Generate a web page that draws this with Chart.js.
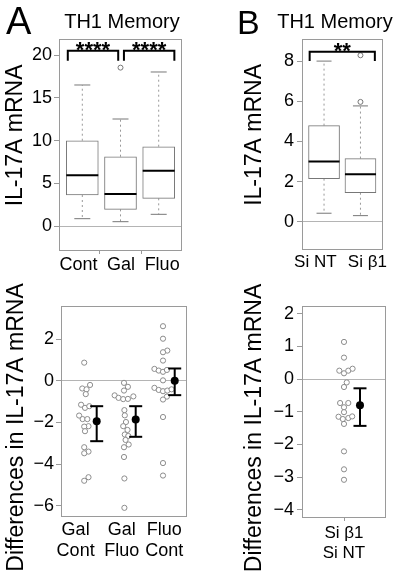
<!DOCTYPE html>
<html>
<head>
<meta charset="utf-8">
<script src="https://cdn.jsdelivr.net/npm/chart.js@4.4.1/dist/chart.umd.min.js"></script>
<style>
  body { margin: 0; background: #fff; }
  #wrap { position: relative; width: 400px; height: 576px; overflow: hidden;
          font-family: "Liberation Sans", Arial, Helvetica, sans-serif; color: #000; }
  canvas { position: absolute; }
  .lbl { position: absolute; line-height: 1; white-space: nowrap; }
  .ttl { font-size: 20px; width: 140px; text-align: center; top: 11px; }
</style>
</head>
<body>
<div id="wrap">
  <canvas id="boxA" width="200" height="290" style="left:0;top:0"></canvas>
  <canvas id="boxB" width="200" height="290" style="left:200px;top:0"></canvas>
  <canvas id="diffA" width="200" height="306" style="left:0;top:270px"></canvas>
  <canvas id="diffB" width="200" height="306" style="left:200px;top:270px"></canvas>
  <div class="lbl" style="left:6px;top:2px;font-size:38px">A</div>
  <div class="lbl ttl" style="left:52px">TH1 Memory</div>
  <div class="lbl" style="left:237px;top:5px;font-size:34px">B</div>
  <div class="lbl ttl" style="left:265px">TH1 Memory</div>
</div>
<script>
// ---- panel A, top: IL-17A mRNA box plots
const catsA = ['Cont', 'Gal', 'Fluo'];
const lowA  = [0.88, 0.53, 1.39];
const q1A   = [3.65, 1.97, 3.26];
const medA  = [5.95, 3.77, 6.49];
const q3A   = [10.0, 8.13, 9.30];
const highA = [16.52, 12.54, 18.04];
const outA  = [[], [18.55], []];
const ticksA = [0, 5, 10, 15, 20];
const sigA = ['****', '****'];
const sigFromA = [0.62, 2.09];
const sigToA   = [1.94, 3.41];

// ---- panel B, top
const catsB = ['Si NT', 'Si \u03B21'];
const lowB  = [0.43, 0.31];
const q1B   = [2.15, 1.45];
const medB  = [3.01, 2.37];
const q3B   = [4.79, 3.15];
const highB = [8.0, 5.77];
const outB  = [[], [5.97, 8.29]];
const ticksB = [0, 2, 4, 6, 8];
const sigB = ['**'];
const sigFromB = [0.605];
const sigToB   = [2.395];

// ---- panel A, bottom: paired differences
const catsDA = [['Gal', 'Cont'], ['Gal', 'Fluo'], ['Fluo', 'Cont']];
const galCont  = [0.87, -0.2, -0.37, -0.41, -0.64, -1.15, -1.3, -1.22, -1.67, -1.84, -1.84, -2.18, -2.2, -2.42, -3.19, -3.4, -3.48, -4.63, -4.8];
const galContX = [-0.02, 0.13, -0.07, 0.04, 0.02, -0.1, 0, 0.11, -0.15, -0.06, 0.06, 0.09, -0.02, 0, -0.02, 0.09, -0.02, 0.09, -0.02];
const galFluo  = [-0.1, -0.29, -0.47, -0.7, -0.82, -0.88, -0.87, -0.75, -1.41, -1.66, -1.98, -2.18, -2.36, -2.58, -2.65, -2.84, -3.06, -3.19, -3.66, -4.69, -6.1];
const galFluoX = [0, 0.1, 0, -0.24, -0.14, -0.02, 0.1, 0.24, 0.01, 0.02, 0.05, -0.02, 0.09, 0.02, 0.11, 0.04, 0.12, 0, 0, 0.01, 0.01];
const fluoCont  = [2.62, 2.02, 1.45, 1.37, 0.97, 0.57, 0.49, 0.43, 0.52, 0.02, -0.34, -0.44, -0.5, -0.47, -0.41, -0.76, -0.9, -1.74, -3.95, -4.55];
const fluoContX = [0, 0, 0.11, 0, 0, -0.22, -0.11, 0, 0.1, 0, -0.22, -0.11, 0, 0.11, 0.22, 0.1, 0, 0, 0, 0];
const meanDA = [-1.94, -1.86, 0.0];
const loDA   = [-2.90, -2.69, -0.69];
const hiDA   = [-1.22, -1.22, 0.59];
const ticksDA = [-6, -4, -2, 0, 2];

// ---- panel B, bottom
const catsDB = [['Si \u03B21', 'Si NT']];
const siDiff  = [1.14, 0.66, 0.26, 0.18, 0.26, 0.32, -0.1, -0.24, -0.73, -0.73, -0.86, -1.01, -1.15, -1.22, -1.19, -1.14, -1.37, -2.21, -2.76, -3.08];
const siDiffX = [0, 0, -0.12, 0, 0.11, 0.22, 0.07, 0, -0.1, 0.11, 0, 0, -0.14, -0.03, 0.11, 0.21, 0, 0, 0, 0];
const meanDB = [-0.8];
const loDB   = [-1.43];
const hiDB   = [-0.28];
const ticksDB = [-4, -3, -2, -1, 0, 1, 2];

Chart.defaults.font.family = '"Liberation Sans", Arial, Helvetica, sans-serif';
Chart.defaults.color = '#000';
Chart.defaults.animation = false;
Chart.defaults.events = [];
Chart.defaults.plugins.legend.display = false;
Chart.defaults.plugins.tooltip.enabled = false;

const minus = v => String(v).replace('-', '\u2212');

// grey frame round the plot region
const frame = {
  id: 'frame',
  beforeDatasetsDraw(chart) {
    const a = chart.chartArea, ctx = chart.ctx;
    ctx.save();
    ctx.strokeStyle = '#9a9a9a';
    ctx.lineWidth = 1;
    ctx.strokeRect(Math.round(a.left) + 0.5, Math.round(a.top) + 0.5,
                   Math.round(a.right - a.left) - 1, Math.round(a.bottom - a.top) - 1);
    ctx.restore();
  }
};

// asterisks over the significance brackets
function starsPlugin(labels, from, to, yTop) {
  return {
    id: 'stars',
    afterDatasetsDraw(chart) {
      const {ctx, scales: {x, y}} = chart;
      ctx.save();
      ctx.font = 'bold 22px "Liberation Sans", Arial, sans-serif';
      ctx.textAlign = 'center';
      ctx.textBaseline = 'alphabetic';
      ctx.fillStyle = '#000';
      labels.forEach((t, i) => {
        ctx.fillText(t, x.getPixelForValue((from[i] + to[i]) / 2), y.getPixelForValue(yTop) + 6);
      });
      ctx.restore();
    }
  };
}

function yAxis(ticks, min, max, title, lay) {
  return {
    type: 'linear', min, max,
    afterBuildTicks: s => { s.ticks = ticks.map(v => ({value: v})); },
    afterFit: s => { s.width = lay.yW; },
    ticks: { padding: lay.yPad, font: {size: 18}, callback: v => minus(v) },
    grid: {
      color: c => (c.tick && c.tick.value === 0) ? '#b4b4b4' : 'rgba(0,0,0,0)',
      tickLength: 5, tickColor: '#9a9a9a'
    },
    border: { display: false },
    title: { display: true, text: title, font: {size: 23}, padding: {top: lay.tPad, bottom: 0} }
  };
}

// category labels sit where the figure printed them (lay.labelAt), groups at 1, 2, 3
function xAxis(cats, lay) {
  const at = lay.labelAt || cats.map((c, i) => i + 1);
  return {
    type: 'linear', min: lay.xMin, max: lay.xMax, offset: false,
    afterBuildTicks: s => { s.ticks = at.map(v => ({value: v})); },
    afterFit: s => { s.height = lay.xH; },
    ticks: { autoSkip: false, maxRotation: 0, padding: lay.xPad,
             font: {size: lay.xFont, lineHeight: 1.2}, callback: (v, i) => cats[i] },
    grid: { drawOnChartArea: false, drawTicks: lay.xTicks !== false, tickLength: 3, tickColor: '#9a9a9a' },
    border: { display: false }
  };
}

function boxPlot(id, d, lay) {
  const idx = d.cats.map((c, i) => i + 1);
  const whiskers = idx.flatMap((x, i) => [
    {x, y: d.q3[i]}, {x, y: d.high[i]}, {x, y: null},
    {x, y: d.q1[i]}, {x, y: d.low[i]}, {x, y: null}]);
  const caps = idx.flatMap((x, i) => [{x, y: d.low[i]}, {x, y: d.high[i]}]);
  const outliers = idx.flatMap((x, i) => d.out[i].map(y => ({x, y})));
  const brackets = d.sig.flatMap((s, i) => [
    {x: d.from[i], y: d.sigFoot}, {x: d.from[i], y: d.sigTop},
    {x: d.to[i], y: d.sigTop}, {x: d.to[i], y: d.sigFoot}, {x: d.to[i], y: null}]);

  return new Chart(document.getElementById(id), {
    type: 'scatter',
    data: { datasets: [
      { type: 'line', data: brackets, borderColor: '#000', borderWidth: 2, pointRadius: 0, order: 0 },
      { data: outliers, pointRadius: 2.5, pointBackgroundColor: '#fff',
        pointBorderColor: '#777', pointBorderWidth: 1, order: 1 },
      { data: idx.map((x, i) => ({x, y: d.med[i]})), pointStyle: 'line', pointRadius: lay.boxW / 2,
        pointBorderColor: '#000', borderColor: '#000', pointBorderWidth: 2, order: 2 },
      { data: caps, pointStyle: 'line', pointRadius: lay.capR,
        pointBorderColor: '#777', borderColor: '#777', pointBorderWidth: 1, order: 3 },
      { type: 'bar', data: idx.map((x, i) => ({x, y: [d.q1[i], d.q3[i]]})),
        backgroundColor: '#fff', borderColor: '#777', borderWidth: 1,
        borderSkipped: false, barThickness: lay.boxW, order: 4 },
      { type: 'line', data: whiskers, borderColor: '#999', borderWidth: 1,
        borderDash: [2, 3], pointRadius: 0, order: 5 }
    ]},
    options: {
      responsive: false,
      layout: { padding: {top: lay.top, right: lay.right, left: 0, bottom: 0} },
      scales: { x: xAxis(d.cats, lay), y: yAxis(d.ticks, d.yMin, d.yMax, d.yTitle, lay) }
    },
    plugins: [frame, starsPlugin(d.sig, d.from, d.to, d.sigTop)]
  });
}

function diffPlot(id, d, lay) {
  const idx = d.cats.map((c, i) => i + 1);
  const pts = d.groups.flatMap((g, i) => g.map((y, j) => ({x: i + 1 + d.jit[i][j], y})));
  const mx = idx.map(x => x + lay.meanShift);
  const errs = idx.flatMap((x, i) => [{x: mx[i], y: d.lo[i]}, {x: mx[i], y: d.hi[i]}, {x: mx[i], y: null}]);
  const caps = idx.flatMap((x, i) => [{x: mx[i], y: d.lo[i]}, {x: mx[i], y: d.hi[i]}]);

  return new Chart(document.getElementById(id), {
    type: 'scatter',
    data: { datasets: [
      { data: idx.map((x, i) => ({x: mx[i], y: d.mean[i]})), pointRadius: 4,
        pointBackgroundColor: '#000', pointBorderColor: '#000', pointBorderWidth: 0, order: 0 },
      { data: caps, pointStyle: 'line', pointRadius: 6.5, pointBorderColor: '#000',
        borderColor: '#000', pointBorderWidth: 2, order: 1 },
      { type: 'line', data: errs, borderColor: '#000', borderWidth: 2, pointRadius: 0, order: 2 },
      { data: pts, pointRadius: 2.6, pointBackgroundColor: '#fff',
        pointBorderColor: '#8c8c8c', pointBorderWidth: 1, order: 3 }
    ]},
    options: {
      responsive: false,
      layout: { padding: {top: lay.top, right: lay.right, left: 0, bottom: 0} },
      scales: { x: xAxis(d.cats, lay), y: yAxis(d.ticks, d.yMin, d.yMax, d.yTitle, lay) }
    },
    plugins: [frame]
  });
}

boxPlot('boxA', {
  cats: catsA, low: lowA, q1: q1A, med: medA, q3: q3A, high: highA, out: outA,
  ticks: ticksA, yMin: -2.9, yMax: 21.9, yTitle: '   IL-17A mRNA',
  sig: sigA, from: sigFromA, to: sigToA, sigTop: 20.53, sigFoot: 19.36
}, { top: 39, right: 14, yW: 59, xH: 39, yPad: 2, tPad: 2, xPad: 0, xFont: 18,
     xMin: 0.39, xMax: 3.61, boxW: 32, capR: 8, labelAt: [0.9, 2.01, 3.09] });

boxPlot('boxB', {
  cats: catsB, low: lowB, q1: q1B, med: medB, q3: q3B, high: highB, out: outB,
  ticks: ticksB, yMin: -1.4, yMax: 9.1, yTitle: '   IL-17A mRNA',
  sig: sigB, from: sigFromB, to: sigToB, sigTop: 8.47, sigFoot: 8.0
}, { top: 39, right: 14, yW: 102, xH: 40, yPad: 3, tPad: 41, xPad: 2, xFont: 17,
     xMin: 0.395, xMax: 2.605, boxW: 31, capR: 7.5, labelAt: [0.76, 2.19], xTicks: false });

diffPlot('diffA', {
  cats: catsDA, groups: [galCont, galFluo, fluoCont], jit: [galContX, galFluoX, fluoContX],
  mean: meanDA, lo: loDA, hi: hiDA, ticks: ticksDA, yMin: -6.54, yMax: 3.59,
  yTitle: 'Differences in IL-17A mRNA     '
}, { top: 36, right: 13, yW: 61, xH: 59, yPad: 2, tPad: 3, xPad: 2, xFont: 18,
     xMin: 0.385, xMax: 3.615, meanShift: 0.3, labelAt: [0.76, 1.94, 3.03], xTicks: false });

diffPlot('diffB', {
  cats: catsDB, groups: [siDiff], jit: [siDiffX],
  mean: meanDB, lo: loDB, hi: hiDB, ticks: ticksDB, yMin: -4.25, yMax: 2.24,
  yTitle: 'Differences in IL-17A mRNA     '
}, { top: 36, right: 14, yW: 102, xH: 58, yPad: 3, tPad: 41, xPad: 2, xFont: 17,
     xMin: -0.077, xMax: 2.077, meanShift: 0.41 });
</script>
</body>
</html>
